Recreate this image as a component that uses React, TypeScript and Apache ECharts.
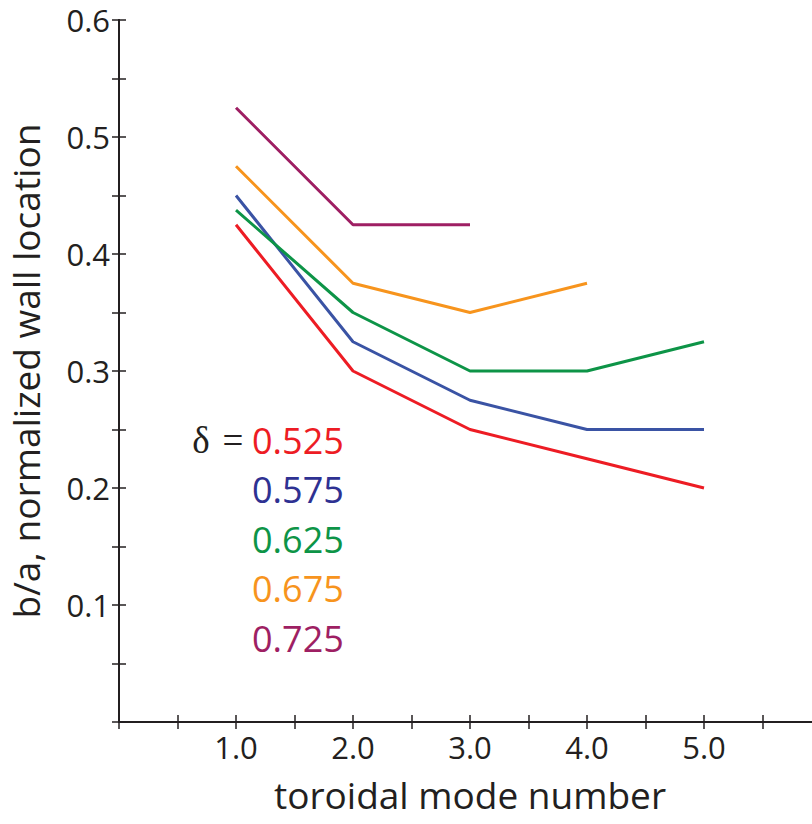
import React, { useEffect, useRef } from 'react';
import * as echarts from 'echarts';

const modes = [1, 2, 3, 4, 5];
const deltas = ['0.525', '0.575', '0.625', '0.675', '0.725'];
const lineColors = ['#ED1C24', '#3A53A4', '#0D9447', '#F7941D', '#9E1F63'];
const textColors = ['#ED1C24', '#2E3192', '#0D9447', '#F7941D', '#9E1F63'];
const wall525 = [0.425, 0.3, 0.25, 0.225, 0.2];
const wall575 = [0.45, 0.325, 0.275, 0.25, 0.25];
const wall625 = [0.4375, 0.35, 0.3, 0.3, 0.325];
const wall675 = [0.475, 0.375, 0.35, 0.375];
const wall725 = [0.525, 0.425, 0.425];
const seriesValues = [wall525, wall575, wall625, wall675, wall725];

const FONT = '"Open Sans", "Noto Sans", sans-serif';
const INK = '#231F20';

export default function App() {
  const ref = useRef<HTMLDivElement>(null);
  useEffect(() => {
    if (!ref.current) return;
    const chart = echarts.init(ref.current, undefined, { renderer: 'svg' });
    const axisLine = { show: true, lineStyle: { color: INK, width: 2 } };
    const axisTick = { show: true, inside: true, length: 7, lineStyle: { color: INK, width: 1.5 } };
    const legendTop = 440;
    const legendStep = 49.5;
    const graphics: any[] = [
      {
        type: 'text',
        x: 201,
        y: legendTop,
        style: { text: 'δ', fill: INK, fontSize: 37, fontFamily: '"Liberation Serif", serif', align: 'center', verticalAlign: 'middle' },
      },
      {
        type: 'text',
        x: 233,
        y: legendTop,
        style: { text: '=', fill: INK, fontSize: 37, fontFamily: '"Liberation Serif", serif', align: 'center', verticalAlign: 'middle' },
      },
    ];
    deltas.forEach((d, i) => {
      graphics.push({
        type: 'text',
        x: 252,
        y: legendTop + i * legendStep,
        style: { text: d, fill: textColors[i], fontSize: 36, fontFamily: FONT, align: 'left', verticalAlign: 'middle' },
      });
    });
    chart.setOption({
      animation: false,
      backgroundColor: '#ffffff',
      grid: { left: 119, top: 20, right: 9, bottom: 102, containLabel: false, outerBoundsMode: 'none' },
      xAxis: [
        {
          type: 'value',
          min: 0,
          max: 6,
          interval: 0.5,
          position: 'bottom',
          axisLine,
          axisTick,
          splitLine: { show: false },
          axisLabel: {
            color: INK,
            fontSize: 31,
            fontFamily: FONT,
            margin: 9,
            formatter: (v: number) => (Number.isInteger(v) && v >= 1 && v <= 5 ? v.toFixed(1) : ''),
          },
          name: 'toroidal mode number',
          nameLocation: 'middle',
          nameGap: 54,
          nameTextStyle: { color: INK, fontSize: 37, fontFamily: FONT, lineHeight: 37 },
        },
        {
          type: 'value',
          min: 0,
          max: 6,
          interval: 0.5,
          position: 'top',
          axisLine,
          axisTick,
          splitLine: { show: false },
          axisLabel: { show: false },
        },
      ],
      yAxis: [
        {
          type: 'value',
          min: 0,
          max: 0.6,
          interval: 0.05,
          axisLine,
          axisTick,
          splitLine: { show: false },
          axisLabel: {
            color: INK,
            fontSize: 31,
            fontFamily: FONT,
            margin: 9,
            formatter: (v: number) => {
              const k = Math.round(v * 100);
              return k > 0 && k % 10 === 0 ? (k / 100).toFixed(1) : '';
            },
          },
          name: 'b/a, normalized wall location',
          nameLocation: 'middle',
          nameGap: 75,
          nameTextStyle: { color: INK, fontSize: 37, fontFamily: FONT },
        },
        {
          type: 'value',
          min: 0,
          max: 0.6,
          interval: 0.05,
          position: 'right',
          axisLine,
          axisTick,
          splitLine: { show: false },
          axisLabel: { show: false },
        },
      ],
      series: seriesValues.map((vals, i) => ({
        type: 'line',
        name: deltas[i],
        data: vals.map((v, j) => [modes[j], v]),
        showSymbol: false,
        symbol: 'none',
        lineStyle: { color: lineColors[i], width: 3 },
        z: 2 + i,
      })),
      graphic: graphics,
    });
    return () => chart.dispose();
  }, []);
  return (
    <div style={{ position: 'absolute', left: 0, top: 0, width: 812, height: 824, overflow: 'hidden' }}>
      <div ref={ref} style={{ width: 830, height: 824 }} />
    </div>
  );
}
